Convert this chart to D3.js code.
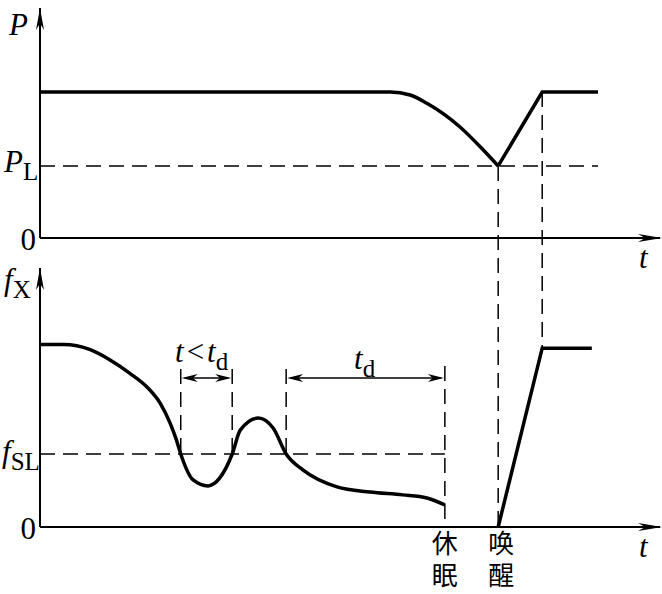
<!DOCTYPE html>
<html>
  <head>
    <meta charset='UTF-8'/>
    <script src="https://cdn.jsdelivr.net/npm/d3@7"></script>
    <style>
      body { margin : 0; background : white; }
      .axis { stroke : black; stroke-width : 2; fill : none; }
      .curve { stroke : black; stroke-width : 3.5; fill : none; stroke-linejoin : miter; }
      .dash { stroke : black; stroke-width : 1.5; stroke-dasharray : 15,8; fill : none; }
      .lab { font-family : 'Liberation Serif', 'Times New Roman', serif; font-size : 31px; }
      .cjk { font-family : 'Noto Sans CJK SC', sans-serif; font-size : 26px;
	     writing-mode : vertical-rl; text-orientation : upright; letter-spacing : 6px; }
    </style>
  </head>
  <body>
    <svg id='fig' width='662' height='594'></svg>
    <script>
      // power P(t): slow drop, then rise back after wakeup
      const pT = [0, 56.5, 59.7, 62.4, 67.7, 71.5, 73.9]
      const pV = [64, 64, 62.7, 59.1, 48.8, 38.6, 31.6]
      const pUpT = [73.9, 81, 90]
      const pUpV = [31.6, 64, 64]
      const PL = 31.6

      // frequency fX(t)
      const fT = [0, 3.8, 8.1, 11.3, 14.5, 17.2, 19.4, 21, 22, 22.7, 24.7, 27.1, 29, 31,
                  32.3, 35.2, 37.6, 39.7, 42.4, 47.9, 53.2, 58.5, 62.4, 65.3]
      const fV = [71, 71, 69, 65, 59.8, 54.6, 48.1, 40.3, 33.9, 28.4, 18.3, 16, 19.1, 28.4,
                  37.7, 42.4, 38.5, 28.4, 22.2, 15.6, 13.6, 12.5, 11.3, 8.6]
      const wakeT = [73.9, 81, 89]
      const wakeV = [0, 69.6, 69.6]
      const fSL = 28.4

      // moments marked on the time axis
      const crossT = [22.7, 31, 39.7]   // fX crosses fSL
      const sleepT = 65.3                // 休眠
      const wakeAt = 73.9                // 唤醒
      const fullT = 81
      const intervals = [[22.7, 31], [39.7, 65.3]]

      const svg = d3.select('#fig')
      const x = d3.scaleLinear().domain([0, 100]).range([40, 660])
      const yP = d3.scaleLinear().domain([0, 100]).range([238, 10])
      const yF = d3.scaleLinear().domain([0, 100]).range([527, 270])

      const arrow = (g, tx, ty, dir, len, hw) => {
	  // dir: 'r','l','u'
	  let p
	  if (dir == 'r') p = `M${tx},${ty} L${tx-len},${ty-hw} L${tx-len*0.7},${ty} L${tx-len},${ty+hw} Z`
	  if (dir == 'l') p = `M${tx},${ty} L${tx+len},${ty-hw} L${tx+len*0.7},${ty} L${tx+len},${ty+hw} Z`
	  if (dir == 'u') p = `M${tx},${ty} L${tx-hw},${ty+len} L${tx},${ty+len*0.7} L${tx+hw},${ty+len} Z`
	  g.append('path').attr('d', p).attr('fill', 'black')
      }

      // axes
      for (const y of [yP, yF]) {
	  svg.append('line').attr('class', 'axis')
	      .attr('x1', x(0)).attr('x2', 660).attr('y1', y(0)).attr('y2', y(0))
	  svg.append('line').attr('class', 'axis')
	      .attr('x1', x(0)).attr('x2', x(0)).attr('y1', y(0)).attr('y2', y.range()[1] - 2)
	  arrow(svg, 662, y(0), 'r', 24, 4)
	  arrow(svg, x(0), y.range()[1] - 2, 'u', 22, 4)
      }

      // dashed guides
      const dash = (x1, y1, x2, y2) => svg.append('line').attr('class', 'dash')
	    .attr('x1', x1).attr('y1', y1).attr('x2', x2).attr('y2', y2)
      dash(x(0), yP(PL), x(90), yP(PL))
      dash(x(0), yF(fSL), x(sleepT), yF(fSL))
      crossT.forEach(t => dash(x(t), yF(61.5), x(t), yF(fSL)))
      dash(x(sleepT), yF(62.6), x(sleepT), yF(0))
      dash(x(wakeAt), yP(PL), x(wakeAt), yF(0))
      dash(x(fullT), yP(64), x(fullT), yF(69.6))

      // interval arrows
      intervals.forEach(([a, b]) => {
	  svg.append('line').attr('stroke', 'black').attr('stroke-width', 1.5)
	      .attr('x1', x(a) + 4).attr('x2', x(b) - 4).attr('y1', yF(58)).attr('y2', yF(58))
	  arrow(svg, x(a) + 1, yF(58), 'l', 16, 4)
	  arrow(svg, x(b) - 1, yF(58), 'r', 16, 4)
      })

      // curves
      const smooth = d3.line().x(d => x(d[0])).curve(d3.curveMonotoneX)
      const straight = d3.line().x(d => x(d[0]))
      svg.append('path').attr('class', 'curve')
	  .attr('d', smooth.y(d => yP(d[1]))(d3.zip(pT, pV)))
      svg.append('path').attr('class', 'curve')
	  .attr('d', straight.y(d => yP(d[1]))(d3.zip(pUpT, pUpV)))
      svg.append('path').attr('class', 'curve')
	  .attr('d', smooth.y(d => yF(d[1]))(d3.zip(fT, fV)))
      svg.append('path').attr('class', 'curve')
	  .attr('d', straight.y(d => yF(d[1]))(d3.zip(wakeT, wakeV)))

      // labels
      const label = (px, py, main, sub, opts) => {
	  opts = opts || {}
	  const t = svg.append('text').attr('class', 'lab').attr('x', px).attr('y', py)
		.attr('text-anchor', opts.anchor || 'start')
	  t.append('tspan').attr('font-style', opts.upright ? null : 'italic').text(main)
	  if (sub) t.append('tspan').attr('dy', 8).attr('font-size', '25px').text(sub)
	  return t
      }
      label(9, 35, 'P')
      label(4, 172, 'P', 'L')
      label(36, 250, '0', null, {anchor: 'end', upright: true})
      label(4, 290, 'f', 'X')
      label(2, 462, 'f', 'SL')
      label(36, 539, '0', null, {anchor: 'end', upright: true})
      label(639, 268, 't')
      label(639, 557, 't')

      const t1 = svg.append('text').attr('class', 'lab').attr('x', 175).attr('y', 362)
      t1.append('tspan').attr('font-style', 'italic').text('t')
      t1.append('tspan').attr('dx', 3).text('<')
      t1.append('tspan').attr('dx', 3).attr('font-style', 'italic').text('t')
      t1.append('tspan').attr('dy', 8).attr('font-size', '25px').text('d')
      label(354, 369, 't', 'd')

      const cjk = (t, word) => svg.append('text').attr('class', 'cjk')
	    .attr('x', x(t)).attr('y', 530).text(word)
      cjk(sleepT, '休眠')
      cjk(wakeAt + 0.5, '唤醒')
    </script>
  </body>
</html>
